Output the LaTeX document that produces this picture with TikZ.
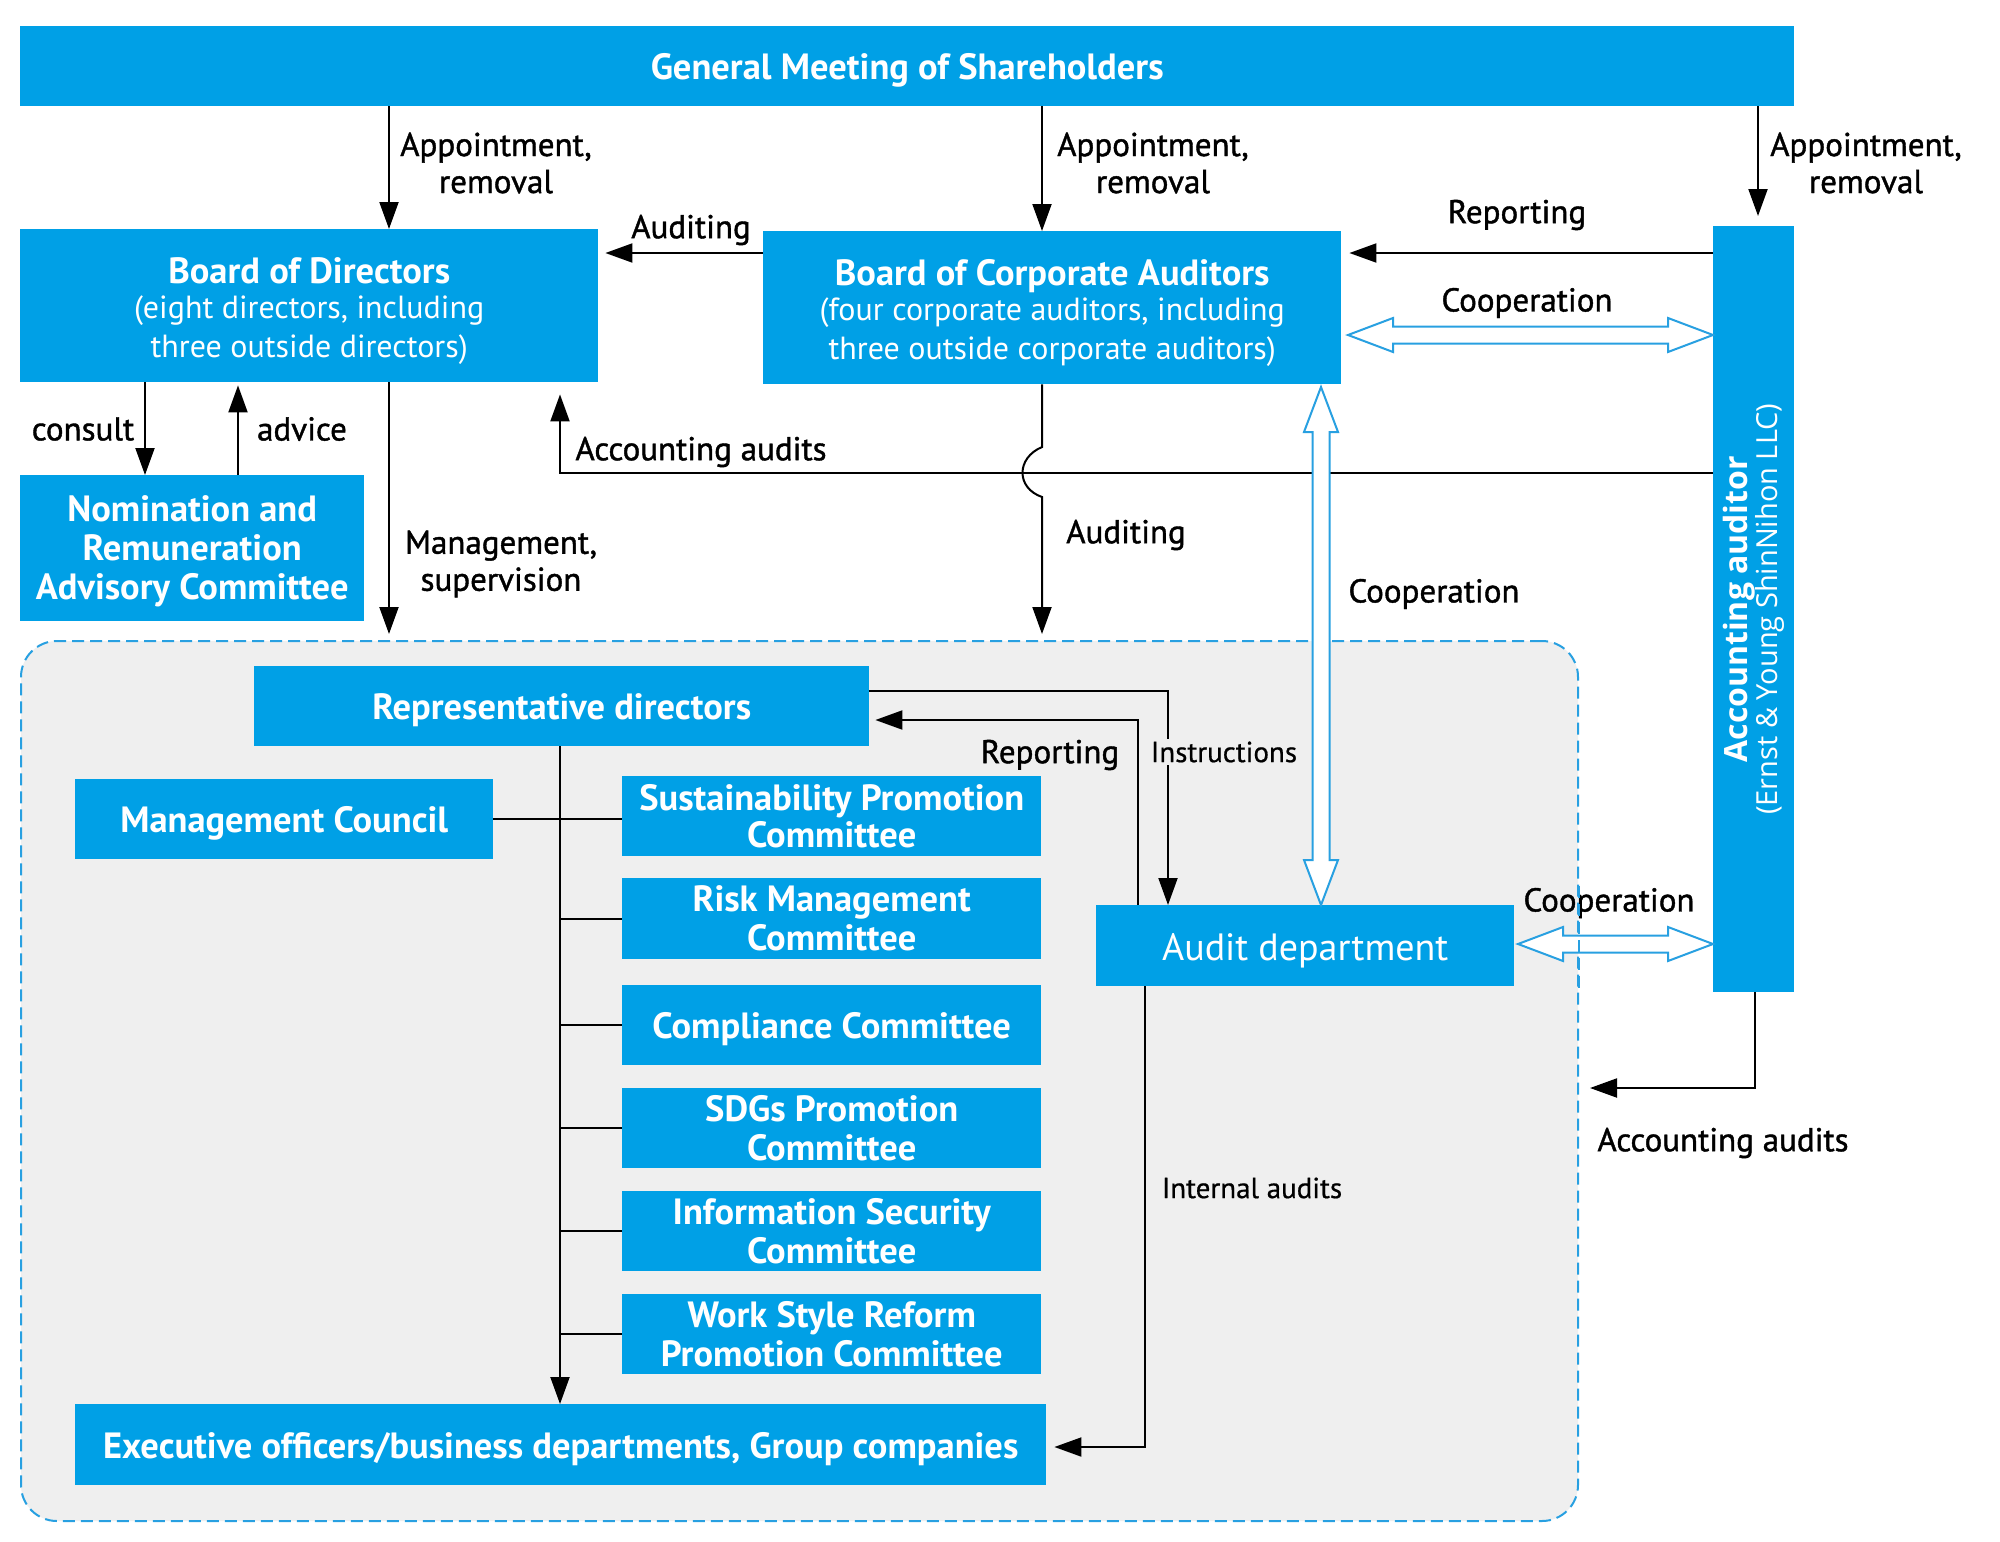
\documentclass[tikz,border=0pt]{standalone}
\usepackage{fontspec}
\setmainfont{PT Sans}
\newfontfamily\semib{PT Sans}[FakeBold=1.2]
\newfontfamily\semibs{PT Sans}[FakeBold=0.6]
\newfontfamily\aafont{Open Sans}
\usetikzlibrary{arrows.meta,calc}
\definecolor{boxblue}{RGB}{0,160,230}
\definecolor{bggray}{RGB}{239,239,239}
\definecolor{lineblue}{RGB}{40,160,225}
\newcommand\gtitle{\bfseries\fontsize{36.5}{39}\selectfont}
\newcommand\gsub{\mdseries\fontsize{32}{38}\selectfont}
\newcommand\glbl{\semib\fontsize{33}{37}\selectfont}
\newcommand\gsml{\semibs\fontsize{29}{33}\selectfont}
\newcommand\dnA{\rule{0pt}{34pt}}
\newcommand\dnB{\rule{0pt}{36pt}}
\newcommand\dnC{\rule{0pt}{32pt}}
\newcommand\hollowH[2]{\draw[hollow] (#1) -- ++(45,-17) -- ++(0,8.5) -- ($(#2)+(-45,-8.5)$) -- ++(0,-8.5) -- (#2) -- ++(-45,17) -- ++(0,-8.5) -- ($(#1)+(45,8.5)$) -- ++(0,8.5) -- cycle;}
\newcommand\hollowV[2]{\draw[hollow] (#1) -- ++(-17,45) -- ++(8.5,0) -- ($(#2)+(-8.5,-45)$) -- ++(-8.5,0) -- (#2) -- ++(17,-45) -- ++(-8.5,0) -- ($(#1)+(8.5,45)$) -- ++(8.5,0) -- cycle;}
\begin{document}
\begin{tikzpicture}[x=1pt,y=-1pt,
  box/.style={fill=boxblue,text=white,inner sep=0pt,align=center,anchor=north west,font=\gtitle},
  lbl/.style={text=black,inner sep=0pt,align=center,font=\glbl},
  sml/.style={text=black,inner sep=0pt,align=center,font=\gsml},
  conn/.style={line width=2pt,black},
  arr/.style={conn,-{Triangle[length=27pt,width=19pt]}},
  hollow/.style={draw=lineblue,line width=2pt,fill=white,line join=miter},
  border/.style={draw=lineblue,line width=2pt,dash pattern=on 12pt off 6pt}]
\useasboundingbox (0,0) rectangle (2000,1542);
\fill[white] (0,0) rectangle (2000,1542);

% container
\node[border,fill=bggray,rounded corners=36pt,
  minimum width=1557pt,minimum height=880pt,anchor=north west,inner sep=0pt] (cont) at (20,640) {};

% boxes
\node[box,minimum width=1774pt,minimum height=80pt] (gms) at (20,26) {\dnA General Meeting of Shareholders};
\node[box,minimum width=578pt,minimum height=153pt] (bod) at (20,229)
  {\dnB Board of Directors\\[-4pt]{\gsub (eight directors, including}\\{\gsub three outside directors)}};
\node[box,minimum width=578pt,minimum height=153pt] (bca) at (763,231)
  {\dnB Board of Corporate Auditors\\[-4pt]{\gsub (four corporate auditors, including}\\{\gsub three outside corporate auditors)}};
\node[box,minimum width=344pt,minimum height=146pt] (nrac) at (20,475)
  {\dnC Nomination and\\Remuneration\\Advisory Committee};
\node[box,minimum width=81pt,minimum height=766pt] (aa) at (1713,226) {};
\node[rotate=90,text=white,align=center,inner sep=0pt,font=\aafont] (aatext) at (aa.center)
  {{\bfseries\fontsize{32}{33}\selectfont Accounting auditor}\\{\fontsize{29}{33}\selectfont (Ernst \& Young ShinNihon LLC)}};

\node[box,minimum width=615pt,minimum height=80pt] (rep) at (254,666) {\dnA Representative directors};
\node[box,minimum width=418pt,minimum height=80pt] (mc) at (75,779) {\dnA Management Council};
\node[box,minimum width=419pt,minimum height=80pt] (sust) at (622,776) {Sustainability Promotion\\[-2pt]Committee};
\node[box,minimum width=419pt,minimum height=81pt] (risk) at (622,878) {Risk Management\\Committee};
\node[box,minimum width=419pt,minimum height=80pt] (comp) at (622,985) {\dnA Compliance Committee};
\node[box,minimum width=419pt,minimum height=80pt] (sdg) at (622,1088) {SDGs Promotion\\Committee};
\node[box,minimum width=419pt,minimum height=80pt] (info) at (622,1191) {Information Security\\Committee};
\node[box,minimum width=419pt,minimum height=80pt] (wsr) at (622,1294) {Work Style Reform\\Promotion Committee};
\node[box,minimum width=971pt,minimum height=81pt] (exec) at (75,1404) {\dnA Executive officers/business departments, Group companies};
\node[box,minimum width=418pt,minimum height=81pt,font=\mdseries\fontsize{38}{40}\selectfont] (ad) at (1096,905) {\rule{0pt}{38pt}Audit department};

% helper coordinates
\coordinate (xA) at (389,0);
\coordinate (xB) at (1042,0);
\coordinate (xC) at (1758,0);
\coordinate (yAud) at (0,253);
\coordinate (xCon) at (145,0);
\coordinate (xAdv) at (238,0);
\coordinate (yAcc) at (0,473);
\coordinate (xAcc) at (560,0);
\coordinate (xV) at (560,0);
\coordinate (yIns) at (0,691);
\coordinate (xIns) at (1168,0);
\coordinate (yRep) at (0,720);
\coordinate (xRep) at (1138,0);
\coordinate (xInt) at (1145,0);
\coordinate (yInt) at (0,1447);
\coordinate (xAcc2) at (1755,0);
\coordinate (accEnd) at (1590,1088);

% top arrows
\draw[arr] (gms.south -| xA) -- (bod.north -| xA);
\draw[arr] (gms.south -| xB) -- (bca.north -| xB);
\draw[arr,shorten >=10pt] (gms.south -| xC) -- (aa.north -| xC);
\node[lbl] at (496,163) {Appointment,\\removal};
\node[lbl] at (1153,163) {Appointment,\\removal};
\node[lbl] at (1866,163) {Appointment,\\removal};

\draw[arr,shorten >=7pt] (bca.west |- yAud) -- (bod.east |- yAud);
\node[lbl] at (691,230) {Auditing};
\draw[arr,shorten >=8pt] (aa.west |- yAud) -- (bca.east |- yAud);
\node[lbl] at (1517,215) {Reporting};

\coordinate (h1a) at (1348,335);
\coordinate (h1b) at (aa.west |- h1a);
\hollowH{h1a}{h1b}
\node[lbl] at (1527,303) {Cooperation};

% NRAC
\draw[arr] (bod.south -| xCon) -- (nrac.north -| xCon);
\draw[arr,shorten >=3pt] (nrac.north -| xAdv) -- (bod.south -| xAdv);
\node[lbl] at (83,429) {consult};
\node[lbl] at (302,429) {advice};

% management supervision
\draw[arr,shorten >=6pt] (bod.south -| xA) -- (cont.north -| xA);
\node[lbl] at (501,564) {Management,\\supervision};

% accounting audits to BoD
\draw[arr,shorten >=12pt] (aa.west |- yAcc) -| (bod.south -| xAcc);
\node[lbl] at (701,452) {Accounting audits};

% auditing BCA -> container with hop
\draw[arr,shorten >=6pt] (bca.south -| xB) -- ($(xB |- yAcc)+(0,-26)$)
  .. controls ($(xB |- yAcc)+(-26,-15)$) and ($(xB |- yAcc)+(-26,15)$) .. ($(xB |- yAcc)+(0,24)$)
  -- (cont.north -| xB);
\node[lbl] at (1126,535) {Auditing};

% vertical cooperation
\coordinate (v1a) at (1321,387);
\coordinate (v1b) at (ad.north -| v1a);
\hollowV{v1a}{v1b}
\node[lbl] at (1434,594) {Cooperation};

% instructions / reporting
\draw[arr] (rep.east |- yIns) -| (ad.north -| xIns);
\node[sml,fill=bggray,inner ysep=3pt] at (1224,752) {Instructions};
\draw[arr,shorten >=6pt] (ad.north -| xRep) |- (rep.east |- yRep);
\node[lbl] at (1050,755) {Reporting};

% AD - AA cooperation
\coordinate (h2a) at (1518,944);
\coordinate (h2b) at (aa.west |- h2a);
\hollowH{h2a}{h2b}
\node[lbl] at (1609,903) {Cooperation};
\draw[border] (cont.east |- 0,886) -- (cont.east |- 0,992);

% accounting audits to container
\draw[arr] (aa.south -| xAcc2) |- (accEnd);
\node[lbl] at (1723,1143) {Accounting audits};

% internal structure
\draw[arr] (rep.south -| xV) -- (exec.north -| xV);
\draw[conn] (mc.east) -- (sust.west |- mc.east);
\draw[conn] (risk.west -| xV) -- (risk.west);
\draw[conn] (comp.west -| xV) -- (comp.west);
\draw[conn] (sdg.west -| xV) -- (sdg.west);
\draw[conn] (info.west -| xV) -- (info.west);
\draw[conn] (wsr.west -| xV) -- (wsr.west);

% internal audits
\draw[arr,shorten >=8pt] (ad.south -| xInt) |- (exec.east |- yInt);
\node[sml] at (1252,1188) {Internal audits};
\end{tikzpicture}
\end{document}
